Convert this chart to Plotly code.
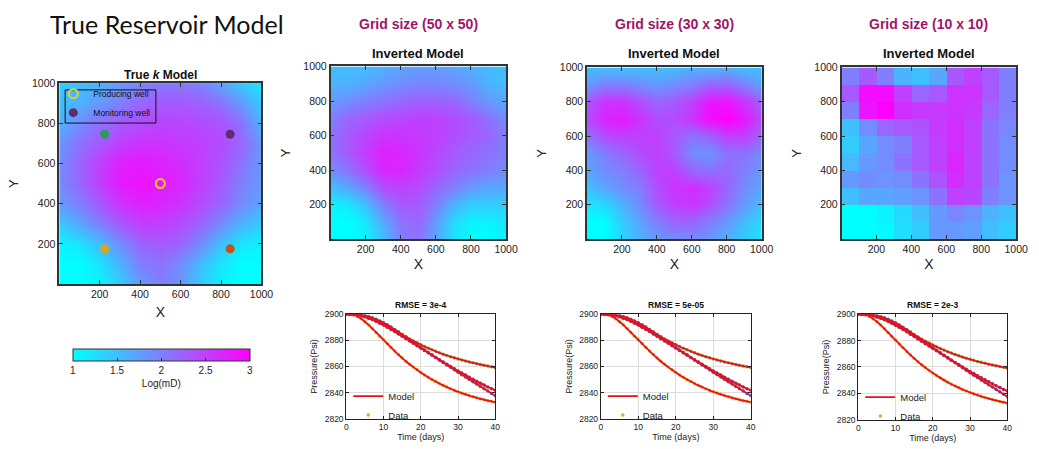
import plotly.graph_objects as go

W, H = 1039, 449

# ---------------- data ----------------
GRID_COORDS = [0, 100, 200, 300, 400, 500, 600, 700, 800, 900, 1000]
CELL_CENTERS_10 = [50, 150, 250, 350, 450, 550, 650, 750, 850, 950]

# log10 permeability, rows from y=0 (bottom) to y=1000 (top)
TRUE_K = [
    [1.0, 1.0, 1.1, 1.4, 1.8, 2.0, 1.8, 1.4, 1.1, 1.0, 1.0],
    [1.0, 1.0, 1.2, 1.6, 2.0, 2.1, 1.9, 1.5, 1.2, 1.0, 1.0],
    [1.1, 1.2, 1.5, 1.9, 2.2, 2.3, 2.2, 1.9, 1.5, 1.2, 1.1],
    [1.4, 1.7, 2.0, 2.3, 2.5, 2.5, 2.4, 2.2, 1.9, 1.6, 1.4],
    [1.8, 2.0, 2.3, 2.6, 2.75, 2.7, 2.6, 2.4, 2.2, 1.9, 1.7],
    [1.9, 2.2, 2.5, 2.8, 2.85, 2.8, 2.7, 2.5, 2.3, 2.0, 1.8],
    [1.9, 2.2, 2.5, 2.75, 2.8, 2.75, 2.65, 2.5, 2.35, 2.1, 1.8],
    [1.8, 2.1, 2.3, 2.5, 2.6, 2.6, 2.55, 2.5, 2.4, 2.2, 1.8],
    [1.6, 1.9, 2.1, 2.3, 2.4, 2.45, 2.45, 2.4, 2.35, 2.1, 1.6],
    [1.5, 1.6, 1.8, 2.0, 2.2, 2.3, 2.3, 2.25, 2.1, 1.8, 1.4],
    [1.4, 1.5, 1.6, 1.8, 1.95, 2.05, 2.05, 1.95, 1.7, 1.4, 1.2],
]

INV_50 = [
    [1.0, 1.0, 1.1, 1.5, 2.0, 2.1, 1.7, 1.2, 1.0, 1.0, 1.1],
    [1.0, 1.0, 1.2, 1.7, 2.1, 2.2, 1.8, 1.3, 1.1, 1.1, 1.2],
    [1.1, 1.2, 1.5, 2.0, 2.3, 2.3, 2.0, 1.6, 1.4, 1.4, 1.4],
    [1.5, 1.7, 2.0, 2.4, 2.5, 2.4, 2.2, 2.0, 1.8, 1.7, 1.7],
    [1.9, 2.1, 2.4, 2.7, 2.7, 2.55, 2.4, 2.2, 2.1, 2.0, 1.9],
    [2.1, 2.3, 2.55, 2.75, 2.7, 2.6, 2.45, 2.3, 2.2, 2.1, 2.0],
    [2.1, 2.3, 2.45, 2.6, 2.6, 2.55, 2.5, 2.4, 2.3, 2.2, 2.0],
    [2.0, 2.2, 2.3, 2.4, 2.45, 2.5, 2.5, 2.4, 2.3, 2.1, 1.9],
    [1.8, 1.9, 2.0, 2.1, 2.2, 2.25, 2.25, 2.2, 2.0, 1.8, 1.7],
    [1.6, 1.6, 1.7, 1.8, 1.9, 1.95, 1.95, 1.9, 1.8, 1.6, 1.5],
    [1.5, 1.5, 1.5, 1.6, 1.7, 1.75, 1.75, 1.7, 1.6, 1.5, 1.5],
]

INV_30 = [
    [1.0, 1.0, 1.3, 1.6, 1.8, 1.9, 1.9, 1.8, 1.6, 1.4, 1.2],
    [1.0, 1.0, 1.4, 1.7, 2.0, 2.2, 2.2, 2.0, 1.8, 1.5, 1.3],
    [1.2, 1.3, 1.6, 1.9, 2.3, 2.5, 2.6, 2.4, 2.1, 1.8, 1.5],
    [1.5, 1.7, 1.9, 2.0, 2.4, 2.6, 2.65, 2.5, 2.2, 1.9, 1.7],
    [1.7, 1.9, 2.0, 2.2, 2.5, 2.5, 2.2, 2.1, 2.2, 2.0, 1.8],
    [1.8, 2.0, 2.2, 2.4, 2.5, 2.3, 1.9, 1.85, 2.1, 2.1, 1.9],
    [2.1, 2.4, 2.5, 2.5, 2.5, 2.3, 2.1, 2.2, 2.5, 2.5, 2.2],
    [2.4, 2.7, 2.8, 2.6, 2.4, 2.4, 2.6, 2.9, 3.0, 2.8, 2.4],
    [2.3, 2.6, 2.6, 2.4, 2.2, 2.3, 2.5, 2.8, 2.85, 2.6, 2.2],
    [1.8, 2.0, 2.0, 1.9, 1.8, 1.9, 2.0, 2.2, 2.2, 2.0, 1.7],
    [1.5, 1.5, 1.5, 1.5, 1.5, 1.5, 1.6, 1.6, 1.6, 1.5, 1.5],
]

# rows from y=50 (bottom) to y=950 (top)
INV_10 = [
    [1.0, 1.0, 1.05, 1.25, 1.4, 1.8, 1.8, 1.75, 1.5, 1.4],
    [1.0, 1.0, 1.1, 1.3, 1.5, 1.8, 1.95, 1.85, 1.6, 1.5],
    [1.5, 1.7, 1.7, 1.75, 1.85, 2.1, 2.5, 2.45, 2.0, 1.85],
    [1.8, 1.9, 1.85, 1.9, 2.1, 2.35, 2.65, 2.5, 2.1, 1.85],
    [1.55, 1.8, 1.9, 2.1, 2.3, 2.5, 2.7, 2.5, 2.1, 1.9],
    [1.4, 1.7, 1.9, 2.0, 2.3, 2.5, 2.65, 2.5, 2.1, 1.9],
    [1.5, 1.9, 2.2, 2.3, 2.35, 2.55, 2.65, 2.5, 2.1, 1.95],
    [2.0, 2.85, 3.0, 2.65, 2.55, 2.55, 2.6, 2.55, 2.2, 2.0],
    [2.3, 2.9, 2.9, 2.5, 2.2, 2.3, 2.6, 2.6, 2.3, 2.0],
    [2.0, 2.3, 2.0, 1.6, 1.5, 1.7, 2.3, 2.5, 2.3, 2.0],
]

COLORBAR_TICKS = [1, 1.5, 2, 2.5, 3]

PRODUCER_X = [500]
PRODUCER_Y = [500]
MONITOR_X = [845, 225, 225, 845]
MONITOR_Y = [745, 745, 175, 175]
MONITOR_COLORS = ["#5e2d6e", "#2a9a5a", "#d9a51c", "#c4501a"]

TIME_DAYS = list(range(41))
P_WELL_A = [2900.0, 2900.0, 2899.5, 2898.3, 2896.5, 2894.3, 2891.8, 2889.0, 2886.1, 2883.2,
            2880.4, 2877.5, 2874.6, 2871.8, 2869.1, 2866.5, 2864.0, 2861.7, 2859.5, 2857.4,
            2855.4, 2853.5, 2851.7, 2850.0, 2848.4, 2846.9, 2845.5, 2844.2, 2842.9, 2841.7,
            2840.6, 2839.6, 2838.6, 2837.7, 2836.8, 2836.0, 2835.2, 2834.5, 2833.8, 2833.2,
            2832.6]
P_WELL_B = [2900.0, 2900.0, 2899.8, 2899.4, 2898.8, 2898.0, 2897.1, 2896.0, 2894.8, 2893.5,
            2892.1, 2890.6, 2889.1, 2887.5, 2885.9, 2884.3, 2882.7, 2881.1, 2879.6, 2878.1,
            2876.7, 2875.3, 2874.0, 2872.8, 2871.6, 2870.5, 2869.4, 2868.4, 2867.5, 2866.6,
            2865.8, 2865.0, 2864.2, 2863.5, 2862.8, 2862.1, 2861.5, 2860.9, 2860.3, 2859.7,
            2859.2]
P_WELL_C = [2900.0, 2900.0, 2899.9, 2899.7, 2899.4, 2898.9, 2898.2, 2897.3, 2896.2, 2894.9,
            2893.5, 2891.9, 2890.2, 2888.4, 2886.5, 2884.5, 2882.5, 2880.5, 2878.5, 2876.5,
            2874.5, 2872.6, 2870.7, 2868.8, 2866.9, 2865.0, 2863.1, 2861.2, 2859.3, 2857.4,
            2855.5, 2853.7, 2851.9, 2850.1, 2848.3, 2846.5, 2844.7, 2842.9, 2841.1, 2839.3,
            2837.5]
P_WELL_D = [2900.0, 2900.0, 2899.8, 2899.4, 2898.8, 2898.0, 2897.0, 2895.9, 2894.6, 2893.2,
            2891.7, 2890.1, 2888.4, 2886.7, 2884.9, 2883.1, 2881.3, 2879.5, 2877.7, 2875.9,
            2874.1, 2872.3, 2870.5, 2868.7, 2866.9, 2865.1, 2863.4, 2861.7, 2860.0, 2858.3,
            2856.6, 2855.0, 2853.4, 2851.8, 2850.2, 2848.7, 2847.2, 2845.7, 2844.3, 2842.9,
            2841.8]
PRESSURE_SERIES = [P_WELL_A, P_WELL_B, P_WELL_C, P_WELL_D]
DATA_COLORS = ["#f2a31c", "#77ac30", "#2f6fd0", "#7e2f8e"]
MODEL_COLOR = "#e8101a"

GRID_LABELS = ["Grid size (50 x 50)", "Grid size (30 x 30)", "Grid size (10 x 10)"]
RMSE_LABELS = ["RMSE = 3e-4", "RMSE = 5e-05", "RMSE = 2e-3"]

# ---------------- layout helpers ----------------
def xdom(l, r):
    return [l / W, r / W]


def ydom(t, b):
    return [1 - b / H, 1 - t / H]


FONT = "Liberation Sans, Arial, Helvetica, sans-serif"
COOL = [[0, "rgb(0,255,255)"], [1, "rgb(255,0,255)"]]

fig = go.Figure()

# map panel boxes (left, right, top, bottom) in pixels
MAP_BOXES = [(58, 263, 79, 285), (333, 511, 62, 239), (593, 770, 63, 239), (851, 1028, 63, 239)]
PRES_BOXES = [(349, 500, 316, 423), (607, 759, 316, 423), (868, 1019, 316, 424)]

map_fields = [(GRID_COORDS, TRUE_K, "best"), (GRID_COORDS, INV_50, "best"),
              (GRID_COORDS, INV_30, "best"), (CELL_CENTERS_10, INV_10, False)]

layout_axes = {}
for i, (box, (coords, z, sm)) in enumerate(zip(MAP_BOXES, map_fields)):
    n = i + 1
    xa = "x" if n == 1 else f"x{n}"
    ya = "y" if n == 1 else f"y{n}"
    fig.add_trace(go.Heatmap(x=coords, y=coords, z=z, zsmooth=sm, coloraxis="coloraxis",
                             xaxis=xa, yaxis=ya, hoverinfo="skip"))
    common = dict(range=[0, 1000], tickvals=[200, 400, 600, 800, 1000], ticks="inside",
                  ticklen=4, tickwidth=1, tickcolor="#333", mirror="ticks", showline=True,
                  linecolor="#333", linewidth=1.5, showgrid=False, zeroline=False,
                  tickfont=dict(size=10.5, color="#222", family=FONT), fixedrange=True)
    layout_axes["xaxis" if n == 1 else f"xaxis{n}"] = dict(
        common, domain=xdom(box[0], box[1]), anchor=ya,
        title=dict(text="X", font=dict(size=14, color="#222", family=FONT),
                   standoff=8 if n == 1 else 5))
    layout_axes["yaxis" if n == 1 else f"yaxis{n}"] = dict(
        common, domain=ydom(box[2], box[3]), anchor=xa,
        title=dict(text="Y", font=dict(size=13, color="#222", family=FONT), standoff=10))

# wells on the true model
fig.add_trace(go.Scatter(x=PRODUCER_X, y=PRODUCER_Y, mode="markers", name="Producing well",
                         marker=dict(symbol="circle-open", size=9, color="#f2cc1a",
                                     line=dict(width=2, color="#f2cc1a")),
                         xaxis="x", yaxis="y", legend="legend"))
for j in range(len(MONITOR_X)):
    fig.add_trace(go.Scatter(x=[MONITOR_X[j]], y=[MONITOR_Y[j]], mode="markers",
                             name="Monitoring well", showlegend=(j == 0),
                             marker=dict(size=9, color=MONITOR_COLORS[j]),
                             xaxis="x", yaxis="y", legend="legend"))

# pressure panels
for k, box in enumerate(PRES_BOXES):
    n = 5 + k
    xa, ya = f"x{n}", f"y{n}"
    leg = f"legend{k + 2}"
    for s, (series, col) in enumerate(zip(PRESSURE_SERIES, DATA_COLORS)):
        fig.add_trace(go.Scatter(x=TIME_DAYS, y=series, mode="markers", name="Data",
                                 showlegend=(s == 0), legend=leg,
                                 marker=dict(size=3.5, color=col),
                                 xaxis=xa, yaxis=ya, legendrank=2))
    for s, series in enumerate(PRESSURE_SERIES):
        fig.add_trace(go.Scatter(x=TIME_DAYS, y=series, mode="lines", name="Model",
                                 showlegend=(s == 0), legend=leg,
                                 line=dict(color=MODEL_COLOR, width=1.8, shape="spline"),
                                 xaxis=xa, yaxis=ya, legendrank=1))
    pcommon = dict(showline=True, linecolor="#222", linewidth=1, mirror="ticks",
                   ticks="inside", ticklen=3, tickcolor="#222", showgrid=True,
                   gridcolor="#dddddd", gridwidth=1, zeroline=False, fixedrange=True,
                   tickfont=dict(size=8.5, color="#222", family=FONT))
    layout_axes[f"xaxis{n}"] = dict(pcommon, domain=xdom(box[0], box[1]), anchor=ya,
                                    range=[0, 40], tickvals=[0, 10, 20, 30, 40],
                                    title=dict(text="Time (days)", standoff=2,
                                               font=dict(size=9, color="#222", family=FONT)))
    layout_axes[f"yaxis{n}"] = dict(pcommon, domain=ydom(box[2], box[3]), anchor=xa,
                                    range=[2820, 2900], tickvals=[2820, 2840, 2860, 2880, 2900],
                                    title=dict(text="Pressure(Psi)", standoff=5,
                                               font=dict(size=9, color="#222", family=FONT)))
    layout_axes[leg] = dict(x=(box[0] + 2) / W, y=1 - (box[3] - 38) / H, xanchor="left",
                            yanchor="top", bgcolor="rgba(0,0,0,0)", borderwidth=0,
                            font=dict(size=9.5, color="#222", family=FONT),
                            itemwidth=30, tracegroupgap=0, traceorder="normal")

annotations = []
annotations.append(dict(text="True Reservoir Model", x=167 / W, y=1 - 18 / H, xref="paper",
                        yref="paper", showarrow=False, xanchor="center", yanchor="middle",
                        font=dict(size=25, color="#111", family="Lato, Open Sans, sans-serif")))
annotations.append(dict(text="<b>True <i>k</i> Model</b>", x=160.5 / W, y=1 - 71 / H,
                        xref="paper", yref="paper", showarrow=False, xanchor="center",
                        yanchor="middle", font=dict(size=12, color="#111", family=FONT)))
for box, label in zip(MAP_BOXES[1:], GRID_LABELS):
    cx = (box[0] + box[1]) / 2
    annotations.append(dict(text=f"<b>{label}</b>", x=cx / W, y=1 - 18 / H, xref="paper",
                            yref="paper", showarrow=False, xanchor="center", yanchor="middle",
                            font=dict(size=14, color="#a0146a", family=FONT)))
    annotations.append(dict(text="<b>Inverted Model</b>", x=cx / W, y=1 - 49 / H, xref="paper",
                            yref="paper", showarrow=False, xanchor="center", yanchor="middle",
                            font=dict(size=13, color="#111", family=FONT)))
for box, label in zip(PRES_BOXES, RMSE_LABELS):
    cx = (box[0] + box[1]) / 2
    annotations.append(dict(text=f"<b>{label}</b>", x=cx / W, y=1 - 307 / H, xref="paper",
                            yref="paper", showarrow=False, xanchor="center", yanchor="middle",
                            font=dict(size=8.5, color="#111", family=FONT)))

# frame of the well legend
shapes = [dict(type="rect", xref="paper", yref="paper", x0=64 / W, x1=156 / W,
               y0=1 - 120 / H, y1=1 - 86 / H, line=dict(color="#111", width=1))]

fig.update_layout(
    width=W, height=H, margin=dict(l=0, r=0, t=0, b=0),
    paper_bgcolor="white", plot_bgcolor="white",
    font=dict(family=FONT, color="#222"),
    coloraxis=dict(colorscale=COOL, cmin=1, cmax=3,
                   colorbar=dict(orientation="h", x=161.5 / W, xanchor="center",
                                 y=1 - 352 / H, yanchor="top", len=179 / W, lenmode="fraction",
                                 thickness=12, thicknessmode="pixels", outlinecolor="#333",
                                 outlinewidth=1, tickvals=COLORBAR_TICKS,
                                 ticktext=["1", "1.5", "2", "2.5", "3"], ticks="inside",
                                 ticklen=3, tickcolor="#333", xpad=0, ypad=0,
                                 tickfont=dict(size=10, color="#222", family=FONT),
                                 title=dict(text="Log(mD)", side="bottom",
                                            font=dict(size=10, color="#222", family=FONT)))),
    legend=dict(x=52 / W, y=1 - 75 / H, xanchor="left", yanchor="top",
                bgcolor="rgba(0,0,0,0)", borderwidth=0,
                font=dict(size=8.5, color="#111", family=FONT), itemwidth=30,
                tracegroupgap=0),
    shapes=shapes,
    annotations=annotations,
    **layout_axes,
)

fig.write_html("out.html")
